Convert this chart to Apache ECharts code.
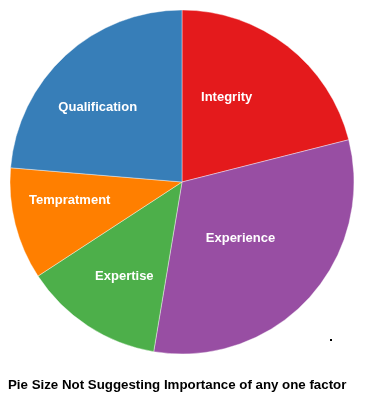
<!DOCTYPE html>
<html>
<head>
<meta charset="utf-8">
<script src="https://cdn.jsdelivr.net/npm/echarts@6/dist/echarts.min.js"></script>
<style>
html,body{margin:0;padding:0;background:#fff;}
#chart{width:370px;height:407px;}
</style>
</head>
<body>
<div id="chart"></div>
<script>
const categories = ["Integrity", "Experience", "Expertise", "Tempratment", "Qualification"];
const values = [8, 12, 5, 4, 9];
const colors = ["#e41a1c", "#984ea3", "#4daf4a", "#ff7f00", "#377eb8"];
const titleText = "Pie Size Not Suggesting Importance of any one factor";
// label nudges (style only)
const labelNudge = [[-10, -14], [-7, -4], [-9, 20], [-26, -3], [-24, -9]];

const chart = echarts.init(document.getElementById('chart'), null, {renderer: 'canvas'});
chart.setOption({
  animation: false,
  backgroundColor: '#fff',
  title: {
    text: titleText,
    left: 8,
    top: 379,
    padding: 0,
    textStyle: {fontFamily: 'Liberation Sans, Arial, sans-serif', fontWeight: 'bold', fontSize: 13.3, color: '#000'}
  },
  series: [{
    type: 'pie',
    center: [182, 182],
    radius: [0, 172],
    startAngle: 90,
    clockwise: true,
    silent: true,
    itemStyle: {borderColor: '#fff', borderWidth: 0.4},
    label: {
      show: true,
      position: 'inside',
      color: '#fff',
      fontFamily: 'Liberation Sans, Arial, sans-serif',
      fontWeight: 'bold',
      fontSize: 13
    },
    labelLine: {show: false},
    labelLayout: function (p) {
      const n = labelNudge[p.dataIndex] || [0, 0];
      return {dx: n[0], dy: n[1]};
    },
    data: categories.map((c, i) => ({name: c, value: values[i], itemStyle: {color: colors[i]}}))
  }],
  graphic: [{
    type: 'rect',
    shape: {x: 330, y: 339, width: 2, height: 2},
    style: {fill: '#000'}
  }]
});
</script>
</body>
</html>
